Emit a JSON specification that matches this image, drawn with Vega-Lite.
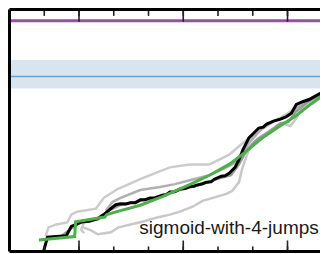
{
  "$schema": "https://vega.github.io/schema/vega-lite/v6.json",
  "width": 322,
  "height": 254,
  "autosize": {"type": "fit", "contains": "padding"},
  "padding": {"left": 7.5, "top": 7.5, "right": 0, "bottom": 0.5},
  "background": "white",
  "config": {"view": {"stroke": null}},
  "datasets": {
    "gray": [
      {"s": "g1", "x": 1.037, "y": 0.630}, {"s": "g1", "x": 1.122, "y": 0.996}, {"s": "g1", "x": 1.349, "y": 1.118}, {"s": "g1", "x": 1.662, "y": 1.199}, {"s": "g1", "x": 1.776, "y": 1.524}, {"s": "g1", "x": 1.946, "y": 1.646}, {"s": "g1", "x": 2.486, "y": 1.768}, {"s": "g1", "x": 2.713, "y": 2.215}, {"s": "g1", "x": 3.111, "y": 2.581}, {"s": "g1", "x": 3.764, "y": 2.988}, {"s": "g1", "x": 4.247, "y": 3.272}, {"s": "g1", "x": 4.616, "y": 3.476}, {"s": "g1", "x": 5.185, "y": 3.598}, {"s": "g1", "x": 5.753, "y": 3.598}, {"s": "g1", "x": 6.037, "y": 3.801}, {"s": "g1", "x": 6.321, "y": 4.004}, {"s": "g1", "x": 6.690, "y": 4.451}, {"s": "g1", "x": 7.088, "y": 4.898}, {"s": "g1", "x": 7.457, "y": 5.305}, {"s": "g1", "x": 7.827, "y": 5.549}, {"s": "g1", "x": 8.224, "y": 5.915}, {"s": "g1", "x": 8.509, "y": 6.118}, {"s": "g1", "x": 8.935, "y": 6.443}, {"s": "g1", "x": 9.162, "y": 6.646},
      {"s": "g2", "x": 2.116, "y": 0.996}, {"s": "g2", "x": 2.344, "y": 0.874}, {"s": "g2", "x": 2.543, "y": 0.711}, {"s": "g2", "x": 2.912, "y": 0.793}, {"s": "g2", "x": 3.139, "y": 0.996}, {"s": "g2", "x": 3.480, "y": 1.118}, {"s": "g2", "x": 3.849, "y": 1.240}, {"s": "g2", "x": 4.247, "y": 1.402}, {"s": "g2", "x": 4.616, "y": 1.524}, {"s": "g2", "x": 4.901, "y": 1.646}, {"s": "g2", "x": 5.270, "y": 1.850}, {"s": "g2", "x": 5.554, "y": 2.093}, {"s": "g2", "x": 5.952, "y": 2.256}, {"s": "g2", "x": 6.236, "y": 2.378}, {"s": "g2", "x": 6.406, "y": 2.500}, {"s": "g2", "x": 6.605, "y": 2.866}, {"s": "g2", "x": 6.690, "y": 3.394}, {"s": "g2", "x": 6.804, "y": 3.882}, {"s": "g2", "x": 6.946, "y": 4.411}, {"s": "g2", "x": 7.173, "y": 4.695}, {"s": "g2", "x": 7.514, "y": 5.020}, {"s": "g2", "x": 7.884, "y": 5.264}, {"s": "g2", "x": 8.082, "y": 5.183}, {"s": "g2", "x": 8.253, "y": 5.508}, {"s": "g2", "x": 8.452, "y": 5.996}, {"s": "g2", "x": 8.736, "y": 6.240}, {"s": "g2", "x": 9.162, "y": 6.646},
      {"s": "g3", "x": 2.770, "y": 1.687}, {"s": "g3", "x": 2.969, "y": 2.053}, {"s": "g3", "x": 3.196, "y": 2.215}, {"s": "g3", "x": 3.764, "y": 2.541}, {"s": "g3", "x": 4.332, "y": 2.663}, {"s": "g3", "x": 4.759, "y": 2.785}, {"s": "g3", "x": 5.185, "y": 2.947}, {"s": "g3", "x": 5.753, "y": 3.150}, {"s": "g3", "x": 6.179, "y": 3.435}, {"s": "g3", "x": 6.463, "y": 3.638}, {"s": "g3", "x": 6.662, "y": 3.963}, {"s": "g3", "x": 6.889, "y": 4.492}, {"s": "g3", "x": 7.230, "y": 5.020}, {"s": "g3", "x": 7.599, "y": 5.386}, {"s": "g3", "x": 8.026, "y": 5.589}, {"s": "g3", "x": 8.310, "y": 5.996}, {"s": "g3", "x": 8.651, "y": 6.321}, {"s": "g3", "x": 9.162, "y": 6.728},
      {"s": "g4", "x": 1.037, "y": 0.549}, {"s": "g4", "x": 1.491, "y": 0.630}, {"s": "g4", "x": 1.776, "y": 0.955}, {"s": "g4", "x": 2.003, "y": 1.159}, {"s": "g4", "x": 2.628, "y": 1.402}, {"s": "g4", "x": 2.855, "y": 1.687}, {"s": "g4", "x": 3.196, "y": 1.931}, {"s": "g4", "x": 4.048, "y": 2.175}, {"s": "g4", "x": 4.901, "y": 2.541}, {"s": "g4", "x": 5.469, "y": 2.744}, {"s": "g4", "x": 6.037, "y": 3.028}, {"s": "g4", "x": 6.378, "y": 3.150}, {"s": "g4", "x": 6.605, "y": 3.598}, {"s": "g4", "x": 6.832, "y": 4.207}, {"s": "g4", "x": 7.116, "y": 4.614}, {"s": "g4", "x": 7.457, "y": 4.939}, {"s": "g4", "x": 7.798, "y": 5.305}, {"s": "g4", "x": 8.026, "y": 5.346}, {"s": "g4", "x": 8.224, "y": 5.752}, {"s": "g4", "x": 8.594, "y": 6.199}, {"s": "g4", "x": 9.162, "y": 6.646},
      {"s": "g5", "x": 2.15, "y": 0.76}, {"s": "g5", "x": 2.06, "y": 0.90}, {"s": "g5", "x": 2.17, "y": 1.27}, {"s": "g5", "x": 2.54, "y": 1.31}, {"s": "g5", "x": 2.70, "y": 1.55}
    ],
    "black": [
      {"x": 0.972, "y": -0.041}, {"x": 1.037, "y": 0.305}, {"x": 1.094, "y": 0.589}, {"x": 1.634, "y": 0.650}, {"x": 1.719, "y": 0.874}, {"x": 1.776, "y": 1.037}, {"x": 1.918, "y": 1.118}, {"x": 2.060, "y": 1.220}, {"x": 2.30, "y": 1.25}, {"x": 2.543, "y": 1.362}, {"x": 2.713, "y": 1.524}, {"x": 2.912, "y": 1.768}, {"x": 3.054, "y": 1.931}, {"x": 3.196, "y": 1.972}, {"x": 3.35, "y": 1.96}, {"x": 3.480, "y": 2.012}, {"x": 3.62, "y": 2.01}, {"x": 3.764, "y": 2.134}, {"x": 3.90, "y": 2.14}, {"x": 4.048, "y": 2.215}, {"x": 4.20, "y": 2.22}, {"x": 4.418, "y": 2.337}, {"x": 4.50, "y": 2.34}, {"x": 4.616, "y": 2.459}, {"x": 4.75, "y": 2.47}, {"x": 4.901, "y": 2.581}, {"x": 5.05, "y": 2.60}, {"x": 5.185, "y": 2.683}, {"x": 5.30, "y": 2.70}, {"x": 5.384, "y": 2.744}, {"x": 5.55, "y": 2.80}, {"x": 5.668, "y": 2.866}, {"x": 5.80, "y": 2.88}, {"x": 5.895, "y": 2.988}, {"x": 6.094, "y": 3.110}, {"x": 6.20, "y": 3.13}, {"x": 6.321, "y": 3.232}, {"x": 6.491, "y": 3.476}, {"x": 6.605, "y": 3.801}, {"x": 6.719, "y": 4.207}, {"x": 6.889, "y": 4.695}, {"x": 7.031, "y": 4.898}, {"x": 7.173, "y": 5.102}, {"x": 7.30, "y": 5.14}, {"x": 7.401, "y": 5.264}, {"x": 7.599, "y": 5.386}, {"x": 7.798, "y": 5.467}, {"x": 7.940, "y": 5.549}, {"x": 8.111, "y": 5.711}, {"x": 8.253, "y": 6.077}, {"x": 8.452, "y": 6.199}, {"x": 8.622, "y": 6.280}, {"x": 8.935, "y": 6.524}, {"x": 9.162, "y": 6.728}
    ],
    "green": [
      {"x": 0.847, "y": 0.480}, {"x": 1.875, "y": 0.618}, {"x": 1.903, "y": 1.228}, {"x": 2.741, "y": 1.423}, {"x": 2.798, "y": 1.524}, {"x": 3.196, "y": 1.687}, {"x": 3.764, "y": 1.911}, {"x": 4.418, "y": 2.276}, {"x": 5.185, "y": 2.764}, {"x": 5.753, "y": 3.150}, {"x": 6.321, "y": 3.598}, {"x": 6.804, "y": 4.126}, {"x": 7.259, "y": 4.675}, {"x": 7.741, "y": 5.142}, {"x": 8.224, "y": 5.589}, {"x": 8.679, "y": 6.098}, {"x": 8.935, "y": 6.362}, {"x": 9.162, "y": 6.606}
    ],
    "minorTicks": [{"t": 1}, {"t": 2}, {"t": 3}, {"t": 4}, {"t": 5}, {"t": 6}, {"t": 7}, {"t": 8}],
    "majorTicks": [{"t": 2}, {"t": 5}, {"t": 8}]
  },
  "layer": [
    {
      "data": {"values": [{}]},
      "mark": {"type": "rect", "color": "#377eb8", "opacity": 0.2},
      "encoding": {
        "x": {"datum": 0, "type": "quantitative", "scale": {"domain": [0, 8.935], "nice": false, "zero": false}, "axis": null},
        "x2": {"datum": 8.935},
        "y": {"datum": 7.91, "type": "quantitative", "scale": {"domain": [0, 10], "nice": false, "zero": false}, "axis": null},
        "y2": {"datum": 6.74}
      }
    },
    {
      "data": {"values": [{}]},
      "mark": {"type": "rule", "color": "#377eb8", "opacity": 0.65, "strokeWidth": 1.5},
      "encoding": {
        "y": {"datum": 7.23, "type": "quantitative", "scale": {"domain": [0, 10], "nice": false, "zero": false}, "axis": null}
      }
    },
    {
      "data": {"values": [{}]},
      "mark": {"type": "rule", "color": "#984ea3", "strokeWidth": 3},
      "encoding": {
        "y": {"datum": 9.54, "type": "quantitative", "scale": {"domain": [0, 10], "nice": false, "zero": false}, "axis": null}
      }
    },
    {
      "data": {"name": "gray"},
      "mark": {"type": "line", "strokeWidth": 2.5, "clip": true},
      "encoding": {
        "x": {"field": "x", "type": "quantitative", "scale": {"domain": [0, 8.935], "nice": false, "zero": false}, "axis": null},
        "y": {"field": "y", "type": "quantitative", "scale": {"domain": [0, 10], "nice": false, "zero": false}, "axis": null},
        "color": {"field": "s", "type": "nominal", "scale": {"domain": ["g1", "g2", "g3", "g4", "g5"], "range": ["#cccccc", "#c8c8c8", "#b0b0b0", "#9a9a9a", "#cccccc"]}, "legend": null},
        "order": {"field": "o"}
      }
    },
    {
      "data": {"name": "black"},
      "mark": {"type": "line", "color": "#000000", "strokeWidth": 3, "clip": true},
      "encoding": {
        "x": {"field": "x", "type": "quantitative", "scale": {"domain": [0, 8.935], "nice": false, "zero": false}, "axis": null},
        "y": {"field": "y", "type": "quantitative", "scale": {"domain": [0, 10], "nice": false, "zero": false}, "axis": null},
        "order": {"field": "x"}
      }
    },
    {
      "data": {"name": "green"},
      "mark": {"type": "line", "color": "#4daf4a", "strokeWidth": 3, "clip": true},
      "encoding": {
        "x": {"field": "x", "type": "quantitative", "scale": {"domain": [0, 8.935], "nice": false, "zero": false}, "axis": null},
        "y": {"field": "y", "type": "quantitative", "scale": {"domain": [0, 10], "nice": false, "zero": false}, "axis": null},
        "order": {"field": "x"}
      }
    },
    {
      "data": {"values": [{"label": "sigmoid-with-4-jumps"}]},
      "mark": {"type": "text", "align": "right", "baseline": "alphabetic", "font": "Liberation Sans", "fontSize": 19, "color": "#1a1a1a"},
      "encoding": {
        "text": {"field": "label"},
        "x": {"datum": 8.9, "type": "quantitative", "scale": {"domain": [0, 8.935], "nice": false, "zero": false}, "axis": null},
        "y": {"datum": 0.724, "type": "quantitative", "scale": {"domain": [0, 10], "nice": false, "zero": false}, "axis": null}
      }
    },
    {
      "data": {"name": "minorTicks"},
      "mark": {"type": "rule", "color": "#222222", "strokeWidth": 1.6},
      "encoding": {
        "x": {"field": "t", "type": "quantitative", "scale": {"domain": [0, 8.935], "nice": false, "zero": false}, "axis": null},
        "y": {"datum": 0, "type": "quantitative", "scale": {"domain": [0, 10], "nice": false, "zero": false}, "axis": null},
        "y2": {"datum": 0.21}
      }
    },
    {
      "data": {"name": "majorTicks"},
      "mark": {"type": "rule", "color": "#222222", "strokeWidth": 1.6},
      "encoding": {
        "x": {"field": "t", "type": "quantitative", "scale": {"domain": [0, 8.935], "nice": false, "zero": false}, "axis": null},
        "y": {"datum": 0, "type": "quantitative", "scale": {"domain": [0, 10], "nice": false, "zero": false}, "axis": null},
        "y2": {"datum": 0.455}
      }
    },
    {
      "data": {"name": "minorTicks"},
      "mark": {"type": "rule", "color": "#222222", "strokeWidth": 1.6},
      "encoding": {
        "x": {"field": "t", "type": "quantitative", "scale": {"domain": [0, 8.935], "nice": false, "zero": false}, "axis": null},
        "y": {"datum": 10, "type": "quantitative", "scale": {"domain": [0, 10], "nice": false, "zero": false}, "axis": null},
        "y2": {"datum": 9.736}
      }
    },
    {
      "data": {"name": "majorTicks"},
      "mark": {"type": "rule", "color": "#222222", "strokeWidth": 1.6},
      "encoding": {
        "x": {"field": "t", "type": "quantitative", "scale": {"domain": [0, 8.935], "nice": false, "zero": false}, "axis": null},
        "y": {"datum": 10, "type": "quantitative", "scale": {"domain": [0, 10], "nice": false, "zero": false}, "axis": null},
        "y2": {"datum": 9.49}
      }
    },
    {
      "data": {"values": [{}]},
      "mark": {"type": "rule", "color": "#000000", "strokeWidth": 3},
      "encoding": {
        "x": {"datum": 0, "type": "quantitative", "scale": {"domain": [0, 8.935], "nice": false, "zero": false}, "axis": null}
      }
    },
    {
      "data": {"values": [{}]},
      "mark": {"type": "rule", "color": "#000000", "strokeWidth": 3},
      "encoding": {
        "y": {"datum": 10, "type": "quantitative", "scale": {"domain": [0, 10], "nice": false, "zero": false}, "axis": null}
      }
    },
    {
      "data": {"values": [{}]},
      "mark": {"type": "rule", "color": "#000000", "strokeWidth": 3},
      "encoding": {
        "y": {"datum": 0, "type": "quantitative", "scale": {"domain": [0, 10], "nice": false, "zero": false}, "axis": null}
      }
    }
  ]
}
